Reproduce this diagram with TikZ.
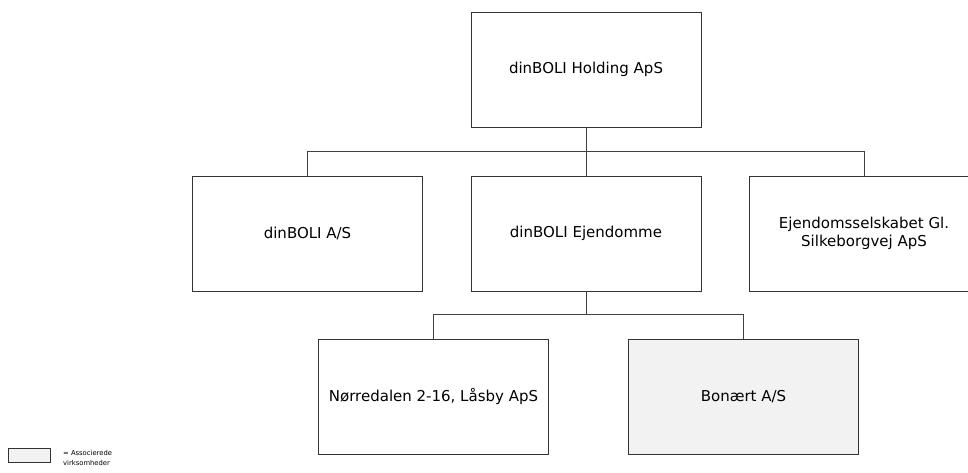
\documentclass[tikz,border=0pt]{standalone}
\usepackage{fontspec}
\setmainfont{DejaVu Sans}
\usepackage{tikz}
\usetikzlibrary{calc,positioning}

\tikzset{
	firma/.style={draw=black!80, line width=0.9pt, fill=white, minimum width=230pt, minimum height=115pt, align=center, font=\fontsize{15}{18}\selectfont, inner sep=2pt},
	assoc/.style={firma, fill=black!5},
	forbind/.style={draw=black!75, line width=0.9pt}
}

\begin{document}
\begin{tikzpicture}[x=1pt,y=-1pt]
	\useasboundingbox (0,0) rectangle (968,472);

	\node[firma] (holding) at (586,69.5) {dinBOLI Holding ApS};

	\node[firma] (dinboli) at (307.5,233.5) {dinBOLI A/S};
	\node[firma] (ejendomme) at (586,233.5) {dinBOLI Ejendomme};
	\node[firma] (silkeborg) at (864,233.5) {Ejendomsselskabet Gl.\\Silkeborgvej ApS};

	\node[firma] (noerredalen) at (433.5,396.5) {Nørredalen 2-16, Låsby ApS};
	\node[assoc] (bonaert) at (743.5,396.5) {Bonært A/S};

	\draw[forbind] (holding.south) -- (ejendomme.north);
	\draw[forbind] (dinboli.north) |- ($(holding.south)!0.5!(ejendomme.north)$) -| (silkeborg.north);

	\draw[forbind] (ejendomme.south) -- ++(0,23) coordinate (gren);
	\draw[forbind] (noerredalen.north) |- (gren) -| (bonaert.north);

	% forklaring
	\node[assoc, minimum width=42pt, minimum height=14pt, inner sep=0pt] (legend) at (29.5,455.5) {};
	\node[right=12pt of legend, yshift=-2pt, align=left, inner sep=0pt, font=\fontsize{6.8}{10}\selectfont] (legendtekst) {= Associerede\\virksomheder};
\end{tikzpicture}
\end{document}
